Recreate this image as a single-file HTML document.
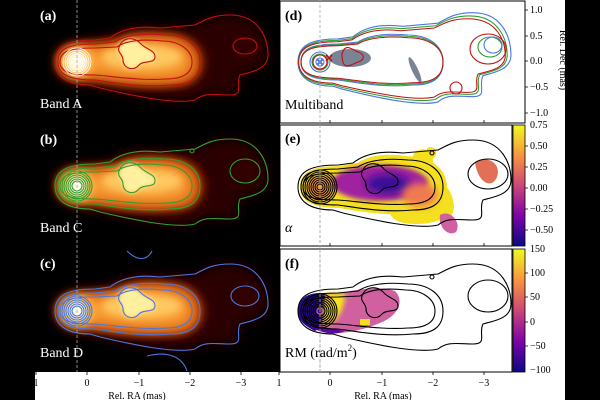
<!DOCTYPE html>
<html><head><meta charset="utf-8"><style>
body{margin:0;background:#000}
svg{display:block}
text{font-family:"Liberation Serif",serif}
</style></head><body>
<svg width="600" height="400" viewBox="0 0 600 400" xmlns="http://www.w3.org/2000/svg">
<defs>
<filter id="bl" x="-30%" y="-30%" width="160%" height="160%"><feGaussianBlur stdDeviation="6"/></filter>
<filter id="bl2" x="-30%" y="-30%" width="160%" height="160%"><feGaussianBlur stdDeviation="4"/></filter>
<filter id="bl3" x="-30%" y="-30%" width="160%" height="160%"><feGaussianBlur stdDeviation="2.5"/></filter>
<linearGradient id="plasma" x1="0" y1="1" x2="0" y2="0">
<stop offset="0" stop-color="#0d0887"/><stop offset="0.25" stop-color="#7e03a8"/><stop offset="0.5" stop-color="#cc4778"/><stop offset="0.75" stop-color="#f89540"/><stop offset="1" stop-color="#f0f921"/></linearGradient>
<path id="outer" d="M-22,0 C-22,-17 -7,-22 18,-22 L33,-24 C43,-32 58,-37 83,-34 L118,-37 C128,-42 135,-47 153,-47 C183,-47 191,-22 191,-7 C191,8 173,10 163,13 C158,23 168,33 153,33 C138,33 128,30 118,38 C98,43 53,33 23,26 L13,23 C-12,23 -22,13 -22,0Z"/>
<path id="mid" d="M-19,0 C-19,-14 -7,-18 18,-18 L38,-20 C48,-27 68,-29 88,-27 C108,-27 123,-17 123,0 C123,16 113,23 93,23 C63,26 33,20 18,18 C-7,18 -19,13 -19,0Z"/>
<path id="mid2" d="M-17,0 C-17,-11 -7,-14 18,-14 L40,-15 C50,-22 68,-23 86,-21 C102,-21 115,-12 115,0 C115,12 105,17 88,17 C63,19 35,14 18,13 C-7,13 -17,10 -17,0Z"/>
<path id="inner" d="M42,-15 C46,-26 58,-25 64,-18 C70,-12 78,-12 78,-5 C78,2 66,-2 62,3 C56,10 46,6 46,-2 C46,-8 40,-9 42,-15Z"/>
<path id="heat1" d="M-20,0 C-20,-14 -7,-19 18,-19 L38,-22 C48,-29 68,-31 88,-28 C110,-28 127,-17 127,0 C127,16 113,24 93,24 C63,27 33,21 18,19 C-7,19 -20,13 -20,0Z"/>
</defs>
<rect x="0" y="0" width="600" height="400" fill="#000"/>
<rect x="35" y="372" width="530" height="28" fill="#fff"/>
<rect x="280" y="0" width="285" height="372" fill="#fff"/>

<!-- left panels -->
<g id="pa">
<g transform="translate(77,62)">
<use href="#outer" fill="#2a0300" filter="url(#bl)"/>
<use href="#heat1" fill="#8a1c00" filter="url(#bl)"/>
<use href="#mid" fill="#d05a08" filter="url(#bl2)"/>
<use href="#mid2" fill="#f89a30" filter="url(#bl)"/>
<ellipse cx="65" cy="-5" rx="40" ry="12" fill="#ffc860" filter="url(#bl2)"/>
<use href="#inner" fill="#fff0a0" filter="url(#bl3)"/>
<ellipse cx="168" cy="-15" rx="14" ry="11" fill="#300400" filter="url(#bl2)"/>
<circle cx="0" cy="0" r="16" fill="#ffc050" filter="url(#bl2)"/>
<circle cx="0" cy="0" r="10" fill="#fff6d8" filter="url(#bl3)"/>
</g>
</g>
<g transform="translate(0,124)"><use href="#pa"/></g>
<g transform="translate(0,249)"><use href="#pa"/></g>

<g fill="none" stroke-width="1.1">
<g transform="translate(77,62)" stroke="#c01010">
<use href="#outer"/><use href="#mid"/><use href="#mid2"/><use href="#inner"/>
<ellipse cx="168" cy="-16" rx="12" ry="8"/>
<g stroke="#fff" stroke-width="0.8"><circle r="2"/><circle r="4"/><circle r="6"/><circle r="8"/><circle r="10"/><circle r="12"/><circle r="14"/></g>
</g>
<g transform="translate(77,186)" stroke="#30a030">
<use href="#outer"/><use href="#mid"/><use href="#mid2"/><use href="#inner"/>
<ellipse cx="168" cy="-15" rx="15" ry="12"/><circle cx="115" cy="-35" r="2"/>
<circle r="3" stroke="#fff"/><circle r="5"/><circle r="7"/><circle r="9"/><circle r="11"/><circle r="13"/><circle r="15"/>
</g>
<g transform="translate(77,311)" stroke="#4a78e0">
<use href="#outer"/><use href="#mid"/><use href="#mid2"/><use href="#inner"/>
<ellipse cx="168" cy="-15" rx="14" ry="10"/><path d="M50,-60 C60,-50 70,-50 75,-60 M70,45 C90,40 105,45 110,60"/>
<circle r="3" stroke="#fff"/><circle r="5"/><circle r="7"/><circle r="9"/><circle r="11"/><circle r="13"/><circle r="15"/>
</g>
</g>
<line x1="77" y1="0" x2="77" y2="372" stroke="#aaa" stroke-dasharray="3,2" stroke-width="0.8"/>
<g fill="#fff" font-size="14">
<text x="40" y="20" font-weight="bold">(a)</text><text x="40" y="108">Band A</text>
<text x="40" y="144" font-weight="bold">(b)</text><text x="40" y="232">Band C</text>
<text x="40" y="268" font-weight="bold">(c)</text><text x="40" y="357">Band D</text>
</g>

<!-- right panels -->
<g stroke="#000" stroke-width="1" fill="none">
<rect x="280" y="1" width="245" height="122"/>
<rect x="280" y="125" width="232" height="121"/>
<rect x="280" y="249" width="232" height="123"/>
</g>
<rect x="513" y="125" width="12" height="121" fill="url(#plasma)" stroke="#000" stroke-width="0.8"/>
<rect x="513" y="249" width="12" height="123" fill="url(#plasma)" stroke="#000" stroke-width="0.8"/>

<!-- d -->
<g transform="translate(320,62)" fill="none" stroke-width="1.1">
<ellipse cx="30" cy="-4" rx="21" ry="9" fill="#7a8494"/>
<ellipse cx="95" cy="8" rx="3" ry="14" fill="#7a8494" transform="rotate(-25 95 8)"/>
<use href="#outer" stroke="#4a78e0" transform="scale(1,1.05)"/>
<use href="#outer" stroke="#30a030" transform="scale(0.98,0.98)"/>
<use href="#outer" stroke="#c01010" transform="scale(0.97,0.92)"/>
<use href="#mid" stroke="#4a78e0"/><use href="#mid" stroke="#30a030" transform="scale(1,0.95)"/><use href="#mid" stroke="#c01010" transform="scale(1,0.9)"/>
<circle r="10" stroke="#4a78e0"/><circle r="8" stroke="#30a030"/><circle r="7" stroke="#c01010"/><circle r="4" stroke="#4a78e0"/>
<path d="M-3,-3 L3,3 M-3,3 L3,-3" stroke="#4a78e0" stroke-width="2"/>
<path d="M6,-7 L12,-1 M6,-1 L12,-7" stroke="#c01010" stroke-width="1.5"/>
<path d="M22,-8 C25,-20 33,-12 38,-10 C45,-8 45,-2 38,0 C30,3 22,10 22,-8Z" stroke="#c01010"/>
<ellipse cx="168" cy="-13" rx="18" ry="15" stroke="#c01010"/>
<ellipse cx="170" cy="-15" rx="12" ry="10" stroke="#30a030"/>
<ellipse cx="173" cy="-17" rx="9" ry="8" stroke="#4a78e0"/>
<circle cx="136" cy="26" r="6" stroke="#c01010"/>
</g>
<line x1="320" y1="0" x2="320" y2="372" stroke="#aaa" stroke-dasharray="3,2" stroke-width="0.8"/>
<text x="285" y="20" font-size="14" font-weight="bold">(d)</text>
<text x="285" y="109" font-size="14">Multiband</text>

<!-- e -->
<g transform="translate(320,187)">
<use href="#heat1" fill="#f5e020" transform="scale(1,1.1)"/>
<path d="M95,-35 C110,-45 118,-25 110,-15 C130,-5 140,20 130,30 C115,35 100,40 80,35 C60,28 70,10 95,-35Z" fill="#f5e020"/>
<path d="M110,-40 C118,-40 118,-30 112,-28 C105,-28 104,-40 110,-40Z" fill="#f5e020"/>
<path d="M120,28 C130,22 142,35 136,45 C128,50 118,40 120,28Z" fill="#d060a0"/>
<ellipse cx="60" cy="-4" rx="48" ry="18" fill="#a020a0" filter="url(#bl3)"/>
<ellipse cx="68" cy="-3" rx="22" ry="10" fill="#3a0898" filter="url(#bl2)"/>
<ellipse cx="100" cy="8" rx="18" ry="12" fill="#f07a50" filter="url(#bl2)"/>
<ellipse cx="0" cy="0" rx="13" ry="13" fill="#f89540" filter="url(#bl3)"/>
<path d="M155,-25 C165,-32 182,-25 177,-10 C172,2 158,-3 155,-25Z" fill="#e27058"/>
<g fill="none" stroke="#000" stroke-width="1.1">
<use href="#outer"/><use href="#mid"/><use href="#mid2"/><use href="#inner"/>
<ellipse cx="168" cy="-13" rx="20" ry="15"/><circle cx="112" cy="-34" r="2"/>
<circle r="3"/><circle r="5"/><circle r="7"/><circle r="9"/><circle r="11"/><circle r="13"/><circle r="15"/><circle r="17"/>
</g>
</g>
<line x1="320" y1="125" x2="320" y2="246" stroke="#aaa" stroke-dasharray="3,2" stroke-width="0.8"/>
<text x="285" y="143" font-size="14" font-weight="bold">(e)</text>
<text x="285" y="232" font-size="14" font-style="italic">α</text>

<!-- f -->
<g transform="translate(320,311)">
<path d="M-22,0 C-22,-14 -10,-18 0,-18 L20,-18 C40,-22 60,-25 75,-20 C85,-10 78,5 60,12 C40,20 20,25 0,20 C-10,18 -22,12 -22,0Z" fill="#d060a0"/>
<path d="M-22,0 C-22,-14 -10,-18 0,-18 L5,-18 C5,0 5,15 -5,20 C-15,15 -22,10 -22,0Z" fill="#2a0890"/>
<path d="M5,-18 L25,-18 C25,-5 20,10 5,15 C0,10 5,0 5,-18Z" fill="#f5e020" filter="url(#bl3)"/>
<path d="M40,8 L50,8 L50,14 L40,14Z" fill="#f5e020"/>
<path d="M-10,15 C0,22 15,25 25,20 C15,18 0,15 -10,15Z" fill="#5a08a0"/>
<g fill="none" stroke="#000" stroke-width="1.1">
<use href="#outer"/><use href="#mid"/><use href="#mid2"/><use href="#inner"/>
<ellipse cx="168" cy="-15" rx="20" ry="16"/><circle cx="112" cy="-34" r="2"/>
<circle r="3" stroke="#e07050"/><circle r="5"/><circle r="7"/><circle r="9"/><circle r="11"/><circle r="13"/><circle r="15"/><circle r="17"/>
</g>
</g>
<line x1="320" y1="249" x2="320" y2="372" stroke="#aaa" stroke-dasharray="3,2" stroke-width="0.8"/>
<text x="285" y="268" font-size="14" font-weight="bold">(f)</text>
<text x="285" y="357" font-size="14">RM (rad/m<tspan font-size="9" dy="-6">2</tspan><tspan dy="6">)</tspan></text>

<!-- axes ticks -->
<g stroke="#000" stroke-width="0.8">
<path d="M36,372v3 M87,372v3 M139,372v3 M190,372v3 M241,372v3"/>
<path d="M279,372v3 M330,372v3 M382,372v3 M433,372v3 M484,372v3"/>
<path d="M330,123v-3 M382,123v-3 M433,123v-3 M484,123v-3 M330,246v-3 M382,246v-3 M433,246v-3 M484,246v-3"/>
<path d="M525,10h3 M525,36h3 M525,61h3 M525,87h3 M525,113h3"/>
<path d="M525,146h3 M525,167h3 M525,188h3 M525,209h3 M525,230h3"/>
<path d="M525,273h3 M525,297h3 M525,322h3 M525,346h3"/>
</g>
<g font-size="10" fill="#000">
<text x="36" y="386" text-anchor="middle">1</text><text x="87" y="386" text-anchor="middle">0</text>
<text x="139" y="386" text-anchor="middle">−1</text><text x="190" y="386" text-anchor="middle">−2</text><text x="241" y="386" text-anchor="middle">−3</text>
<text x="279" y="386" text-anchor="middle">1</text><text x="330" y="386" text-anchor="middle">0</text>
<text x="382" y="386" text-anchor="middle">−1</text><text x="433" y="386" text-anchor="middle">−2</text><text x="484" y="386" text-anchor="middle">−3</text>
<text x="137" y="399" text-anchor="middle">Rel. RA (mas)</text>
<text x="383" y="399" text-anchor="middle">Rel. RA (mas)</text>
<text x="530" y="13">1.0</text><text x="530" y="39">0.5</text><text x="530" y="64">0.0</text><text x="530" y="90">−0.5</text><text x="530" y="116">−1.0</text>
<text x="530" y="128">0.75</text><text x="530" y="149">0.50</text><text x="530" y="170">0.25</text><text x="530" y="191">0.00</text><text x="530" y="212">−0.25</text><text x="530" y="233">−0.50</text>
<text x="530" y="252">150</text><text x="530" y="276">100</text><text x="530" y="300">50</text><text x="530" y="325">0</text><text x="530" y="349">−50</text><text x="530" y="373">−100</text>
<text transform="translate(560,60) rotate(90)" text-anchor="middle">Rel. Dec (mas)</text>
</g>
</svg>
</body></html>
